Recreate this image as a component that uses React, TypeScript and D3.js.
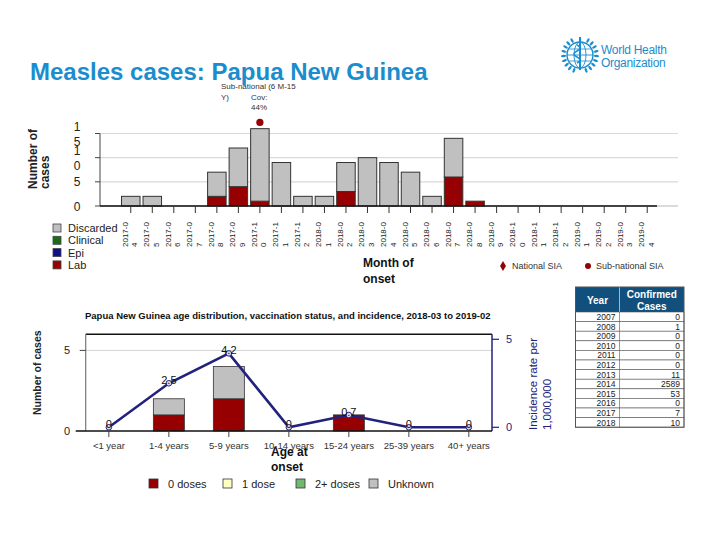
import React from "react";
import * as d3 from "d3";

const months = [
  "2017-04", "2017-05", "2017-06", "2017-07", "2017-08", "2017-09", "2017-10", "2017-11", "2017-12",
  "2018-01", "2018-02", "2018-03", "2018-04", "2018-05", "2018-06", "2018-07", "2018-08", "2018-09",
  "2018-10", "2018-11", "2018-12", "2019-01", "2019-02", "2019-03", "2019-04",
];
const labCases = [0, 0, 0, 0, 2, 4, 1, 0, 0, 0, 3, 0, 0, 0, 0, 6, 1, 0, 0, 0, 0, 0, 0, 0, 0];
const epiCases = [0, 0, 0, 0, 0, 0, 0, 0, 0, 0, 0, 0, 0, 0, 0, 0, 0, 0, 0, 0, 0, 0, 0, 0, 0];
const clinicalCases = [0, 0, 0, 0, 0, 0, 0, 0, 0, 0, 0, 0, 0, 0, 0, 0, 0, 0, 0, 0, 0, 0, 0, 0, 0];
const discardedCases = [2, 2, 0, 0, 5, 8, 15, 9, 2, 2, 6, 10, 9, 7, 2, 8, 0, 0, 0, 0, 0, 0, 0, 0, 0];
const caseTicks = [0, 5, 10, 15];
const siaMonth = "2017-10";
const siaLevel = 17.3;
const statusKeys = ["lab", "epi", "clinical", "discarded"];
const statusLegend = ["Discarded", "Clinical", "Epi", "Lab"];

const ageGroups = ["<1 year", "1-4 years", "5-9 years", "10-14 years", "15-24 years", "25-39 years", "40+ years"];
const zeroDoses = [0, 1, 2, 0, 1, 0, 0];
const oneDose = [0, 0, 0, 0, 0, 0, 0];
const twoPlusDoses = [0, 0, 0, 0, 0, 0, 0];
const unknownDoses = [0, 1, 2, 0, 0, 0, 0];
const incidence = [0, 2.5, 4.2, 0, 0.7, 0, 0];
const incidenceLabels = ["0", "2.5", "4.2", "0", "0.7", "0", "0"];
const doseKeys = ["zero", "one", "two", "unknown"];
const doseLegend = ["0 doses", "1 dose", "2+ doses", "Unknown"];
const ageTicks = [0, 5];
const incTicks = [0, 5];

const tableYears = ["2007", "2008", "2009", "2010", "2011", "2012", "2013", "2014", "2015", "2016", "2017", "2018"];
const tableCases = ["0", "1", "0", "0", "0", "0", "11", "2589", "53", "0", "7", "10"];

const FONT = "'Liberation Sans', Arial, sans-serif";
const BLUE = "#1b8dcd";
const NAVY = "#22227e";
const RED = "#960000";
const GRAY = "#c0c0c0";

const statusColor: Record<string, string> = {
  lab: RED,
  epi: "#10108a",
  clinical: "#1a6b1a",
  discarded: GRAY,
};
const doseColor: Record<string, string> = {
  zero: RED,
  one: "#ffffc4",
  two: "#72b872",
  unknown: GRAY,
};

function WhoLogo() {
  const cx = 580, cy = 55, r = 13;
  const leaves = d3.range(0, 9);
  return (
    <g stroke={BLUE} fill="none">
      <circle cx={cx} cy={cy} r={r} strokeWidth={1.4} />
      <ellipse cx={cx} cy={cy} rx={6} ry={r} strokeWidth={0.9} />
      <line x1={cx - r} y1={cy} x2={cx + r} y2={cy} strokeWidth={0.9} />
      <line x1={cx - r + 2} y1={cy - 6} x2={cx + r - 2} y2={cy - 6} strokeWidth={0.8} />
      <line x1={cx - r + 2} y1={cy + 6} x2={cx + r - 2} y2={cy + 6} strokeWidth={0.8} />
      <line x1={cx} y1={cy - 18} x2={cx} y2={cy + 15} strokeWidth={2} />
      <path d={`M${cx - 3},${cy - 10} q6,3 0,6 q-6,3 0,6 q6,3 0,6`} strokeWidth={1.5} />
      {leaves.map((i) => {
        const a = Math.PI * (0.62 + i * 0.09);
        const x = cx + Math.cos(a) * (r + 3.5);
        const y = cy + Math.sin(a) * (r + 3.5);
        const x2 = cx + Math.cos(Math.PI - a) * (r + 3.5);
        return (
          <g key={i}>
            <ellipse cx={x} cy={y} rx={1.2} ry={2.6} fill={BLUE} stroke="none" transform={`rotate(${(a * 180) / Math.PI + 90},${x},${y})`} />
            <ellipse cx={x2} cy={y} rx={1.2} ry={2.6} fill={BLUE} stroke="none" transform={`rotate(${-((a * 180) / Math.PI + 90)},${x2},${y})`} />
          </g>
        );
      })}
      <text x={601} y={54} fill={BLUE} stroke="none" fontSize={12} fontFamily={FONT} letterSpacing={-0.3}>World Health</text>
      <text x={601} y={67} fill={BLUE} stroke="none" fontSize={12} fontFamily={FONT} letterSpacing={-0.3}>Organization</text>
    </g>
  );
}

function TopChart() {
  const x = d3.scaleBand<string>().domain(months).range([100, 678]).paddingInner(0.14).paddingOuter(1.0);
  const y = d3.scaleLinear().domain([0, 15]).range([206, 133.5]);
  const rows = months.map((m, i) => ({
    month: m,
    lab: labCases[i],
    epi: epiCases[i],
    clinical: clinicalCases[i],
    discarded: discardedCases[i],
  }));
  const series = d3.stack<any>().keys(statusKeys)(rows);
  const c = (m: string) => (x(m) as number) + x.bandwidth() / 2;
  return (
    <g fontFamily={FONT}>
      {caseTicks.filter((t) => t > 0).map((t) => (
        <line key={t} x1={100} x2={678} y1={y(t)} y2={y(t)} stroke="#d9d9d9" strokeWidth={1.2} />
      ))}
      <line x1={100} x2={678} y1={y(0)} y2={y(0)} stroke="#cfcfcf" strokeWidth={1.5} />
      {series.map((s) =>
        s.map((d, i) =>
          d[1] - d[0] > 0 ? (
            <rect key={s.key + i} x={x(months[i])} width={x.bandwidth()} y={y(d[1])} height={y(d[0]) - y(d[1])}
              fill={statusColor[s.key]} stroke="#333" strokeWidth={1} />
          ) : null
        )
      )}
      <line x1={100} x2={100} y1={y(15)} y2={y(0)} stroke="#444" strokeWidth={1} />
      <line x1={100} x2={657} y1={y(0)} y2={y(0)} stroke="#111" strokeWidth={1.5} />
      {caseTicks.map((t) => (
        <line key={t} x1={95} x2={100} y1={y(t)} y2={y(t)} stroke="#444" />
      ))}
      {caseTicks.map((t) => {
        const s = String(t);
        const lines = s.length > 1 ? s.split("") : [s];
        const yy = y(t) + 4.5;
        return (
          <text key={t} x={77} y={lines.length > 1 ? yy - 7.5 : yy} fontSize={12} fill="#222" textAnchor="middle">
            {lines.map((l, k) => (
              <tspan key={k} x={77} dy={k === 0 ? 0 : 15}>{l}</tspan>
            ))}
          </text>
        );
      })}
      {months.map((m) => (
        <line key={m} x1={c(m)} x2={c(m)} y1={y(0)} y2={y(0) + 7} stroke="#333" />
      ))}
      {months.map((m) => (
        <text key={m} transform={`translate(${c(m) - 3},247) rotate(-90)`} fontSize={8} fill="#222" textAnchor="start">
          <tspan x={0} dy={0}>{m.slice(0, 6)}</tspan>
          <tspan x={0} dy={9.5}>{m.slice(6)}</tspan>
        </text>
      ))}
      <circle cx={c(siaMonth)} cy={y(siaLevel)} r={3.6} fill={RED} />
      <g fontSize={8} fill="#333">
        <text x={221} y={89}>Sub-national (6 M-15</text>
        <text x={221} y={99.5}>Y)</text>
        <text x={251} y={99.5}>Cov:</text>
        <text x={251} y={110}>44%</text>
      </g>
      <text transform="translate(37,189) rotate(-90)" fontSize={12} fontWeight="bold" fill="#222">
        <tspan x={0} dy={0}>Number of</tspan>
        <tspan x={0} dy={12}>cases</tspan>
      </text>
      {statusLegend.map((l, i) => (
        <g key={l}>
          <rect x={53} y={224 + i * 12.3} width={8} height={8}
            fill={statusColor[statusKeys[statusKeys.length - 1 - i]]} stroke="#444" strokeWidth={0.8} />
          <text x={68} y={232 + i * 12.3} fontSize={11} fill="#222">{l}</text>
        </g>
      ))}
      <text x={363} y={267} fontSize={12} fontWeight="bold" fill="#111">Month of</text>
      <text x={363} y={283} fontSize={12} fontWeight="bold" fill="#111">onset</text>
      <path d={d3.symbol(d3.symbolDiamond, 30)() as string} transform="translate(503,266)" fill={RED} />
      <text x={512} y={269} fontSize={9} fill="#333">National SIA</text>
      <circle cx={588} cy={266} r={3} fill={RED} />
      <text x={596} y={269} fontSize={9} fill="#333">Sub-national SIA</text>
    </g>
  );
}

function BottomChart() {
  const left = 85.7, right = 492, top = 334.3, bottom = 431;
  const x = d3.scalePoint<string>().domain(ageGroups).range([left, right]).padding(0.386);
  const y = d3.scaleLinear().domain([0, 6]).range([bottom, top]);
  const y2 = d3.scaleLinear().domain([0, 5]).range([427.3, 339.3]);
  const rows = ageGroups.map((a, i) => ({
    age: a,
    zero: zeroDoses[i],
    one: oneDose[i],
    two: twoPlusDoses[i],
    unknown: unknownDoses[i],
  }));
  const series = d3.stack<any>().keys(doseKeys)(rows);
  const bw = 31;
  const line = d3.line<number>().x((_, i) => x(ageGroups[i]) as number).y((d) => y2(d));
  return (
    <g fontFamily={FONT}>
      <text x={85} y={319} fontSize={9.5} fontWeight="bold" fill="#111">
        Papua New Guinea age distribution, vaccination status, and incidence, 2018-03 to 2019-02
      </text>
      <rect x={left} y={top} width={right - left} height={bottom - top} fill="white" stroke="none" />
      {ageTicks.filter((t) => t > 0).map((t) => (
        <line key={t} x1={left} x2={right} y1={y(t)} y2={y(t)} stroke="#d4d4d4" strokeWidth={1} />
      ))}
      {series.map((s) =>
        s.map((d, i) =>
          d[1] - d[0] > 0 ? (
            <rect key={s.key + i} x={(x(ageGroups[i]) as number) - bw / 2} width={bw} y={y(d[1])} height={y(d[0]) - y(d[1])}
              fill={doseColor[s.key]} stroke="#333" strokeWidth={0.8} />
          ) : null
        )
      )}
      <line x1={left} x2={right} y1={top} y2={top} stroke="#111" strokeWidth={1.5} />
      <line x1={left} x2={left} y1={top} y2={bottom} stroke="#777" strokeWidth={1.2} />
      <line x1={right} x2={right} y1={top} y2={bottom} stroke={NAVY} strokeWidth={1.5} />
      <line x1={left - 10} x2={right} y1={bottom} y2={bottom} stroke="#111" strokeWidth={1.5} />
      {ageTicks.map((t) => (
        <g key={t}>
          <line x1={left - 6} x2={left} y1={y(t)} y2={y(t)} stroke="#444" />
          <text x={70} y={y(t) + 4} fontSize={11} fill="#222" textAnchor="end">{t}</text>
        </g>
      ))}
      {incTicks.map((t) => (
        <g key={t}>
          <line x1={right} x2={right + 7} y1={y2(t)} y2={y2(t)} stroke={NAVY} strokeWidth={1.2} />
          <text x={506} y={y2(t) + 4} fontSize={11} fill={NAVY}>{t}</text>
        </g>
      ))}
      {ageGroups.map((a) => (
        <g key={a}>
          <line x1={x(a)} x2={x(a)} y1={bottom} y2={bottom + 6} stroke="#444" />
          <text x={x(a)} y={449} fontSize={9.5} fill="#333" textAnchor="middle">{a}</text>
        </g>
      ))}
      <path d={line(incidence) as string} fill="none" stroke={NAVY} strokeWidth={2.6} />
      {incidence.map((v, i) => (
        <circle key={i} cx={x(ageGroups[i])} cy={y2(v)} r={2.8} fill="#d8d8e8" stroke={NAVY} strokeWidth={1} />
      ))}
      {incidence.map((v, i) => (
        <text key={i} x={x(ageGroups[i])} y={y2(v) + 1} fontSize={11} fill="#111" textAnchor="middle">{incidenceLabels[i]}</text>
      ))}
      <text x={271} y={456} fontSize={12} fontWeight="bold" fill="#111">Age at</text>
      <text x={271} y={471} fontSize={12} fontWeight="bold" fill="#111">onset</text>
      <text transform="translate(41,415) rotate(-90)" fontSize={10.5} fontWeight="bold" fill="#222">Number of cases</text>
      <text transform="translate(537,430) rotate(-90)" fontSize={11.5} fill={NAVY}>
        <tspan x={0} dy={0}>Incidence rate per</tspan>
        <tspan x={0} dy={14}>1,000,000</tspan>
      </text>
      {doseLegend.map((l, i) => {
        const xs = [149, 223, 296, 369];
        return (
          <g key={l}>
            <rect x={xs[i]} y={479} width={9} height={9} fill={doseColor[doseKeys[i]]} stroke="#333" strokeWidth={0.8} />
            <text x={xs[i] + 19} y={487.5} fontSize={11} fill="#222">{l}</text>
          </g>
        );
      })}
    </g>
  );
}

function CasesTable() {
  const x0 = 575.5, x1 = 619.5, x2 = 684;
  const headTop = 287, headBottom = 312, rowH = 9.6;
  return (
    <g fontFamily={FONT}>
      <rect x={x0} y={headTop} width={x2 - x0} height={headBottom - headTop} fill="#11507d" />
      <line x1={x1} x2={x1} y1={headTop} y2={headBottom} stroke="#ffffff" strokeWidth={0.6} />
      <text x={(x0 + x1) / 2} y={303.5} fontSize={10} fontWeight="bold" fill="white" textAnchor="middle">Year</text>
      <text x={(x1 + x2) / 2} y={298} fontSize={10} fontWeight="bold" fill="white" textAnchor="middle">Confirmed</text>
      <text x={(x1 + x2) / 2} y={309.5} fontSize={10} fontWeight="bold" fill="white" textAnchor="middle">Cases</text>
      {tableYears.map((yr, i) => {
        const ry = headBottom + i * rowH;
        return (
          <g key={yr}>
            <rect x={x0} y={ry} width={x2 - x0} height={rowH} fill="white" stroke="#555" strokeWidth={0.6} />
            <line x1={x1} x2={x1} y1={ry} y2={ry + rowH} stroke="#555" strokeWidth={0.6} />
            <text x={x1 - 4} y={ry + 8} fontSize={8.5} fill="#222" textAnchor="end">{yr}</text>
            <text x={x2 - 4} y={ry + 8} fontSize={8.5} fill="#222" textAnchor="end">{tableCases[i]}</text>
          </g>
        );
      })}
      <rect x={x0} y={headTop} width={x2 - x0} height={headBottom - headTop + rowH * tableYears.length} fill="none" stroke="#555" strokeWidth={1} />
    </g>
  );
}

export default function App() {
  return (
    <svg width={720} height={540} style={{ position: "absolute", left: 0, top: 0, background: "white" }}>
      <rect width={720} height={540} fill="white" />
      <text x={30} y={80} fontFamily={FONT} fontSize={24} fontWeight="bold" fill={BLUE}>
        Measles cases: Papua New Guinea
      </text>
      <WhoLogo />
      <TopChart />
      <BottomChart />
      <CasesTable />
    </svg>
  );
}
